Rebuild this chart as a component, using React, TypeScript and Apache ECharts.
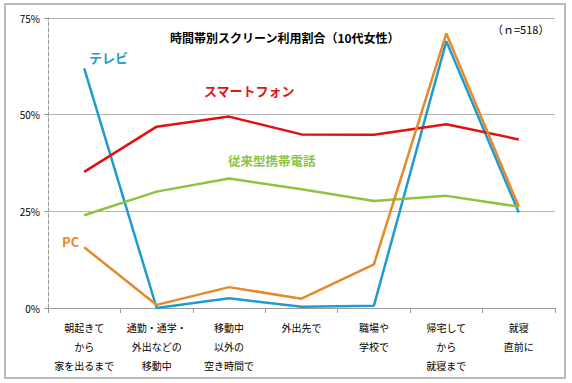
import React, { useEffect, useRef } from "react";
import * as echarts from "echarts";

const categories = [
  "朝起きて\nから\n家を出るまで",
  "通勤・通学・\n外出などの\n移動中",
  "移動中\n以外の\n空き時間で",
  "外出先で",
  "職場や\n学校で",
  "帰宅して\nから\n就寝まで",
  "就寝\n直前に",
];
const tv = [62, 0, 2.5, 0.3, 0.6, 69, 24.7];
const smartphone = [35.2, 46.9, 49.5, 44.9, 44.8, 47.5, 43.6];
const featurePhone = [24.0, 30.1, 33.5, 30.7, 27.7, 29.0, 26.2];
const pc = [15.7, 0.8, 5.4, 2.4, 11.3, 71, 26.2];
const yTicks = [0, 25, 50, 75];

const FONT = "'Noto Sans CJK JP', 'Noto Sans', sans-serif";
const C_TV = "#1f9bcf";
const C_SP = "#e3100f";
const C_FP = "#8cc43f";
const C_PC = "#e5892b";

export default function App() {
  const ref = useRef<HTMLDivElement>(null);
  useEffect(() => {
    const chart = echarts.init(ref.current!, null, { renderer: "svg" });
    const line = (name: string, data: number[], color: string) => ({
      name,
      type: "line",
      data,
      symbol: "none",
      lineStyle: { color, width: 2.5 },
      itemStyle: { color },
      z: 3,
    });
    chart.setOption({
      animation: false,
      backgroundColor: "#ffffff",
      textStyle: { fontFamily: FONT },
      title: {
        text: "時間帯別スクリーン利用割合（10代女性）",
        left: 165,
        top: 26,
        textStyle: { fontSize: 12, fontWeight: "bold", color: "#000", fontFamily: FONT },
      },
      grid: { left: 48, right: 17, top: 18, bottom: 75 },
      xAxis: {
        type: "category",
        data: categories,
        boundaryGap: true,
        axisLine: { lineStyle: { color: "#9a9a9a", width: 1 } },
        axisTick: { show: true, length: 5, lineStyle: { color: "#9a9a9a" } },
        axisLabel: {
          interval: 0,
          fontSize: 10,
          lineHeight: 19,
          color: "#000",
          margin: 10,
          fontFamily: FONT,
        },
      },
      yAxis: {
        type: "value",
        min: yTicks[0],
        max: yTicks[yTicks.length - 1],
        interval: 25,
        axisLine: { show: true, lineStyle: { color: "#9a9a9a", type: "dashed", width: 1 } },
        axisTick: { show: true, length: 4, lineStyle: { color: "#9a9a9a" } },
        axisLabel: {
          formatter: "{value}%",
          fontSize: 10,
          color: "#000",
          margin: 8,
          fontFamily: FONT,
        },
        splitLine: { show: true, lineStyle: { color: "#b4b4b4", width: 1 } },
      },
      series: [
        line("テレビ", tv, C_TV),
        line("スマートフォン", smartphone, C_SP),
        line("従来型携帯電話", featurePhone, C_FP),
        line("PC", pc, C_PC),
      ],
      graphic: [
        {
          type: "rect",
          shape: { x: 5, y: 4, width: 560, height: 374 },
          style: { fill: "none", stroke: "#b8b8b8", lineWidth: 2 },
          silent: true,
        },
        {
          type: "text",
          x: 492,
          y: 23,
          style: { text: "（ｎ=518）", fontSize: 11, fill: "#000", fontFamily: FONT },
        },
        {
          type: "text",
          x: 89,
          y: 51,
          style: { text: "テレビ", fontSize: 13, fontWeight: "bold", fill: C_TV, fontFamily: FONT },
        },
        {
          type: "text",
          x: 204,
          y: 84,
          style: { text: "スマートフォン", fontSize: 13, fontWeight: "bold", fill: C_SP, fontFamily: FONT },
        },
        {
          type: "text",
          x: 228,
          y: 154,
          style: { text: "従来型携帯電話", fontSize: 12.5, fontWeight: "bold", fill: C_FP, fontFamily: FONT },
        },
        {
          type: "text",
          x: 62,
          y: 235,
          style: { text: "PC", fontSize: 13, fontWeight: "bold", fill: C_PC, fontFamily: FONT },
        },
      ],
    });
    return () => chart.dispose();
  }, []);
  return (
    <div
      ref={ref}
      style={{ position: "fixed", left: 0, top: 0, width: 572, height: 383 }}
    />
  );
}
